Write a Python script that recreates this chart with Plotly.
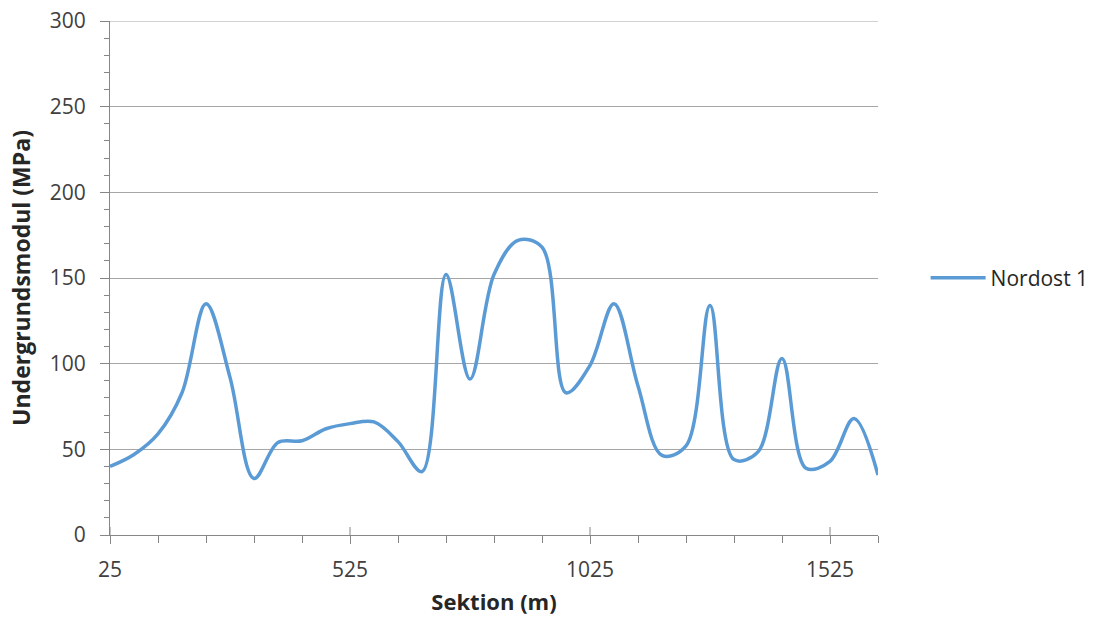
import plotly.graph_objects as go

sektion = [25 + 50 * i for i in range(33)]
modul = [40, 47, 59, 83, 135, 92, 33, 54, 55, 62, 65, 66, 54.5, 37, 152, 91, 152, 172, 168,
         83, 99, 135, 87, 46.5, 52, 134, 44, 48.5, 103, 39, 43, 68, 35]
series_name = "Nordost 1"
x_ticks = [25, 525, 1025, 1525]
y_ticks = [0, 50, 100, 150, 200, 250, 300]

font = "Open Sans, Liberation Sans, sans-serif"
axis_col = "#868686"

fig = go.Figure()
fig.add_trace(go.Scatter(
    x=sektion, y=modul, mode="lines", name=series_name,
    line=dict(color="#5B9BD5", width=3.5, shape="spline", smoothing=1.0),
))

# top gridline at the range maximum
fig.add_shape(type="line", xref="paper", x0=0, x1=1, yref="y", y0=max(y_ticks), y1=max(y_ticks),
              line=dict(color="#A6A6A6", width=1), layer="below")
# upward part of the crossing major ticks on the x axis
for v in x_ticks:
    fig.add_shape(type="line", xref="x", x0=v, x1=v, yref="paper", ysizemode="pixel",
                  yanchor=0, y0=0, y1=8, line=dict(color=axis_col, width=1))

fig.update_layout(
    width=1100, height=625,
    margin=dict(l=110, r=222, t=21, b=90, autoexpand=False),
    paper_bgcolor="white", plot_bgcolor="white",
    font=dict(family=font, size=21, color="#404040"),
    showlegend=True,
    legend=dict(x=1.062, y=0.5, xanchor="left", yanchor="middle", itemwidth=55,
                font=dict(size=21, color="#262626"), bgcolor="rgba(0,0,0,0)"),
    xaxis=dict(
        range=[25, 1625], tickvals=x_ticks, ticktext=[str(v) for v in x_ticks],
        showgrid=False, zeroline=False, showline=True, linecolor=axis_col, linewidth=1,
        ticks="outside", ticklen=8, tickcolor=axis_col,
        minor=dict(tickvals=list(range(25, 1626, 100)), ticks="outside", ticklen=7,
                   tickcolor=axis_col, showgrid=False),
        ticklabelstandoff=8,
        title=dict(text="<b>Sektion (m)</b>", font=dict(size=22, color="#262626"), standoff=12),
    ),
    yaxis=dict(
        range=[0, 300], tickvals=y_ticks,
        showgrid=True, gridcolor="#A6A6A6", gridwidth=1,
        zeroline=False, showline=True, linecolor=axis_col, linewidth=1,
        ticks="outside", ticklen=9, tickcolor=axis_col,
        minor=dict(dtick=10, tick0=0, ticks="outside", ticklen=5, tickcolor=axis_col, showgrid=False),
        ticklabelstandoff=10,
        title=dict(text="<b>Undergrundsmodul (MPa)</b>", font=dict(size=23, color="#262626"), standoff=12),
    ),
)

fig.write_html("out.html")
